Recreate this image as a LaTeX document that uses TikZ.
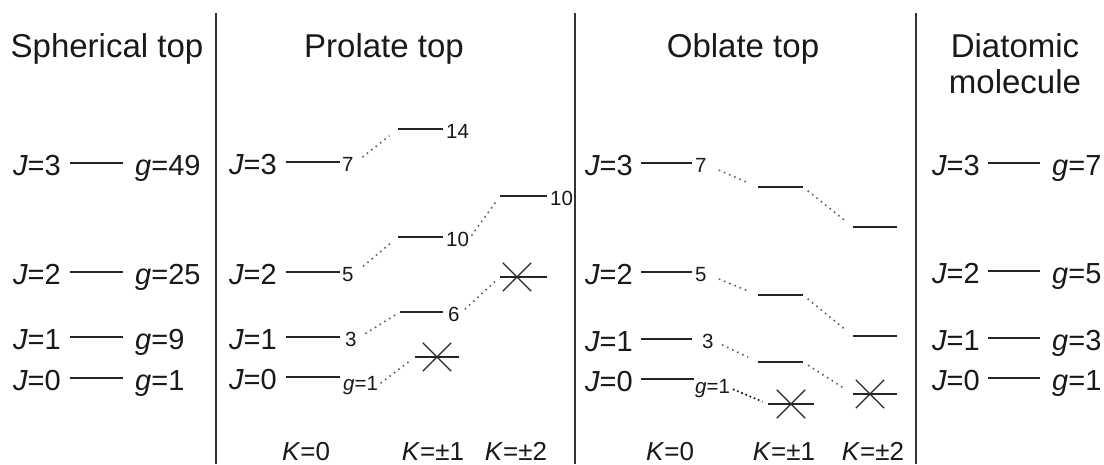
\documentclass[tikz,border=0pt]{standalone}
\usepackage{fontspec}
\setmainfont{Liberation Sans}
\usetikzlibrary{shapes.misc}
\begin{document}
\begin{tikzpicture}[x=1pt,y=-1pt,
 lvl/.style={draw=black!85, line width=1.4pt},
 sep/.style={draw=black!80, line width=1.4pt},
 dots/.style={draw=black!62, line width=1.6pt, dash pattern=on 1.6pt off 4pt},
 dotsdark/.style={draw=black!90, line width=1.7pt, dash pattern=on 1.7pt off 2.8pt},
 xmark/.style={cross out, draw=black!85, line width=1.3pt, minimum width=27pt, minimum height=27pt, inner sep=0pt},
 ttl/.style={font=\fontsize{33}{36}\selectfont, inner sep=0pt, text=black!90},
 jl/.style={font=\fontsize{29}{31}\selectfont, inner sep=0pt, text=black!90},
 sm/.style={font=\fontsize{20.5}{22}\selectfont, inner sep=0pt, text=black!90},
 kl/.style={font=\fontsize{26}{28}\selectfont, inner sep=0pt, text=black!90},
]
\useasboundingbox[fill=white] (0,0) rectangle (1104,464);

% separators
\coordinate (s1t) at (216,13); \coordinate (s1b) at (216,464);
\coordinate (s2t) at (575,13); \coordinate (s2b) at (575,464);
\coordinate (s3t) at (916,13); \coordinate (s3b) at (916,464);
\draw[sep] (s1t) -- (s1b);
\draw[sep] (s2t) -- (s2b);
\draw[sep] (s3t) -- (s3b);

% titles
\node[ttl, anchor=base] (tsph) at (107,57) {Spherical top};
\node[ttl, anchor=base] (tpro) at (384,57) {Prolate top};
\node[ttl, anchor=base] (tobl) at (743,57) {Oblate top};
\node[ttl, anchor=base] (tdia1) at (1015,57) {Diatomic};
\node[ttl, anchor=base] (tdia2) at (1015,93) {molecule};

% spherical top
\foreach \n/\y/\g in {3/163/49, 2/272/25, 1/337/9, 0/378/1} {
  \coordinate (sL\n) at (70,\y); \coordinate (sR\n) at (123,\y);
  \draw[lvl] (sL\n) -- (sR\n);
  \node[jl, anchor=base east] (sJ\n) at (61,\y+12) {\textit{J}=\n};
  \node[jl, anchor=base west] (sG\n) at (135,\y+12) {\textit{g}=\g};
}

% diatomic
\foreach \n/\y/\g in {3/163/7, 2/271/5, 1/338/3, 0/378/1} {
  \coordinate (dL\n) at (988,\y); \coordinate (dR\n) at (1040,\y);
  \draw[lvl] (dL\n) -- (dR\n);
  \node[jl, anchor=base east] (dJ\n) at (980,\y+12) {\textit{J}=\n};
  \node[jl, anchor=base west] (dG\n) at (1052,\y+12) {\textit{g}=\g};
}

% prolate top, K=0
\foreach \n/\y in {3/162, 2/272, 1/337, 0/377} {
  \coordinate (pL\n) at (286,\y); \coordinate (pR\n) at (340,\y);
  \draw[lvl] (pL\n) -- (pR\n);
  \node[jl, anchor=base east] (pJ\n) at (277,\y+12) {\textit{J}=\n};
}
\node[sm, anchor=base west] (p7) at (342,171) {7};
\node[sm, anchor=base west] (p5) at (342,281) {5};
\node[sm, anchor=base west] (p3) at (345,346) {3};
\node[sm, anchor=base west] (pg) at (343,390) {\textit{g}=1};
% prolate K=+-1
\coordinate (q3L) at (398,129); \coordinate (q3R) at (443,129);
\coordinate (q2L) at (398,237); \coordinate (q2R) at (443,237);
\coordinate (q1L) at (400,312); \coordinate (q1R) at (443,312);
\coordinate (q0L) at (415,357); \coordinate (q0R) at (459,357);
\draw[lvl] (q3L) -- (q3R);
\draw[lvl] (q2L) -- (q2R);
\draw[lvl] (q1L) -- (q1R);
\draw[lvl] (q0L) -- (q0R);
\node[sm, anchor=base west] (q14) at (446,138) {14};
\node[sm, anchor=base west] (q10) at (446,246) {10};
\node[sm, anchor=base west] (q6) at (448,321) {6};
\node[xmark] (qx) at (437,357) {};
% prolate K=+-2
\coordinate (r2L) at (500,196); \coordinate (r2R) at (547,196);
\coordinate (r1L) at (500,277); \coordinate (r1R) at (547,277);
\draw[lvl] (r2L) -- (r2R);
\draw[lvl] (r1L) -- (r1R);
\node[sm, anchor=base west] (r10) at (550,205) {10};
\node[xmark] (rx) at (517,277) {};
% prolate connectors
\draw[dots, shorten <=11pt, shorten >=11pt] (p7.east) -- (q3L);
\draw[dots, shorten <=12pt, shorten >=8pt] (p5.east) -- (q2L);
\draw[dots, shorten <=4pt, shorten >=7pt] (q10.east) -- (r2L);
\draw[dots, shorten <=10pt, shorten >=5pt] (p3.east) -- (q1L);
\draw[dots, shorten <=7pt, shorten >=5pt] (q6.east) -- (r1L);
\draw[dots, shorten <=3pt, shorten >=5pt] (pg.east) -- (q0L);

% oblate top, K=0
\foreach \n/\y/\e in {3/163/692, 2/272/692, 1/339/692, 0/379/694} {
  \coordinate (oL\n) at (641,\y); \coordinate (oR\n) at (\e,\y);
  \draw[lvl] (oL\n) -- (oR\n);
  \node[jl, anchor=base east] (oJ\n) at (633,\y+12) {\textit{J}=\n};
}
\node[sm, anchor=base west] (o7) at (695,172) {7};
\node[sm, anchor=base west] (o5) at (695,281) {5};
\node[sm, anchor=base west] (o3) at (702,348) {3};
\node[sm, anchor=base west] (og) at (695,393) {\textit{g}=1};
% oblate K=+-1
\coordinate (u3L) at (758,187); \coordinate (u3R) at (803,187);
\coordinate (u2L) at (758,295); \coordinate (u2R) at (803,295);
\coordinate (u1L) at (758,362); \coordinate (u1R) at (803,362);
\coordinate (u0L) at (768,404); \coordinate (u0R) at (814,404);
\draw[lvl] (u3L) -- (u3R);
\draw[lvl] (u2L) -- (u2R);
\draw[lvl] (u1L) -- (u1R);
\draw[lvl] (u0L) -- (u0R);
\node[xmark] (ux) at (791,404) {};
% oblate K=+-2
\coordinate (v3L) at (853,227); \coordinate (v3R) at (897,227);
\coordinate (v2L) at (853,336); \coordinate (v2R) at (897,336);
\coordinate (v1L) at (853,394); \coordinate (v1R) at (897,394);
\draw[lvl] (v3L) -- (v3R);
\draw[lvl] (v2L) -- (v2R);
\draw[lvl] (v1L) -- (v1R);
\node[xmark] (vx) at (870,394) {};
% oblate connectors
\draw[dots, shorten <=13pt, shorten >=11pt] (o7.east) -- (u3L);
\draw[dots, shorten <=13pt, shorten >=11pt] (o5.east) -- (u2L);
\draw[dots, shorten <=9pt, shorten >=11pt] (o3.east) -- (u1L);
\draw[dots, shorten <=6pt, shorten >=10pt] (u3R) -- (v3L);
\draw[dots, shorten <=6pt, shorten >=10pt] (u2R) -- (v2L);
\draw[dots, shorten <=6pt, shorten >=10pt] (u1R) -- (v1L);
\draw[dotsdark, shorten <=3pt, shorten >=6pt] (og.east) -- (u0L);

% K labels
\node[kl, anchor=base] (pk0) at (306,460) {\textit{K}=0};
\node[kl, anchor=base] (pk1) at (433,460) {\textit{K}=±1};
\node[kl, anchor=base] (pk2) at (516,460) {\textit{K}=±2};
\node[kl, anchor=base] (ok0) at (670,460) {\textit{K}=0};
\node[kl, anchor=base] (ok1) at (784,460) {\textit{K}=±1};
\node[kl, anchor=base] (ok2) at (873,460) {\textit{K}=±2};
\end{tikzpicture}
\end{document}
